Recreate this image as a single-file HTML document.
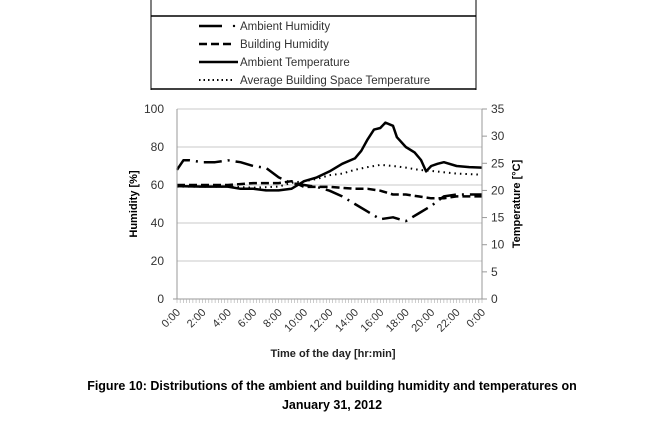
<!DOCTYPE html>
<html><head><meta charset="utf-8"><style>
body{margin:0;background:#fff;width:664px;height:425px;overflow:hidden}
svg{font-family:"Liberation Sans",sans-serif}
</style></head><body>
<svg id="c" width="664" height="425">
<g>
<line x1="151" y1="0" x2="151" y2="90" stroke="#000" stroke-width="1"/>
<line x1="476" y1="0" x2="476" y2="90" stroke="#000" stroke-width="1"/>
<line x1="151" y1="16" x2="476" y2="16" stroke="#000" stroke-width="1.5"/>
<line x1="151" y1="89" x2="476" y2="89" stroke="#000" stroke-width="1.5"/>
<g><line x1="199" y1="26" x2="222" y2="26" stroke="#000" stroke-width="2.5"/><circle cx="234" cy="26" r="1.2"/><text x="240" y="30" font-size="11.5" fill="#333">Ambient Humidity</text></g>
<g><line x1="199" y1="44" x2="235" y2="44" stroke="#000" stroke-width="2.5" stroke-dasharray="8,4"/><text x="240" y="48" font-size="11.5" fill="#333">Building Humidity</text></g>
<g><line x1="199" y1="62" x2="238" y2="62" stroke="#000" stroke-width="2.5"/><text x="240" y="66" font-size="11.5" fill="#333">Ambient Temperature</text></g>
<g><line x1="199" y1="80" x2="235" y2="80" stroke="#000" stroke-width="2" stroke-dasharray="1.5,3"/><text x="240" y="84" font-size="11.5" fill="#333">Average Building Space Temperature</text></g>
</g>
<g id="grid"></g><g id="series"></g><g id="axes"></g>
<text x="333" y="357" font-size="11" text-anchor="middle" fill="#222" font-weight="bold">Time of the day [hr:min]</text>
<text transform="translate(137,204) rotate(-90)" font-size="11" text-anchor="middle" font-weight="bold">Humidity [%]</text>
<text transform="translate(520,204) rotate(-90)" font-size="11" text-anchor="middle" font-weight="bold">Temperature [°C]</text>
<text x="332" y="390" font-size="12.5" text-anchor="middle" font-weight="bold">Figure 10: Distributions of the ambient and building humidity and temperatures on</text>
<text x="332" y="409" font-size="12.5" text-anchor="middle" font-weight="bold">January 31, 2012</text>
</svg>
<script>
const humTicks=[0,20,40,60,80,100];
const tempTicks=[0,5,10,15,20,25,30,35];
const timeLabels=["0:00","2:00","4:00","6:00","8:00","10:00","12:00","14:00","16:00","18:00","20:00","22:00","0:00"];
const ambHumHours=[0,0.5,1,2,3,4,5,6,7,8,9,10,11,12,13,14,15,16,17,18,19,20,21,22,23,24];
const ambHumVals=[68,73,73,72,72,73,72,70,69,64,61,60,59,57,54,50,46,42,43,41,45,49,54,55,55,55];
const bldHumHours=[0,2,4,6,8,9,10,12,14,15,16,17,18,19,20,21,22,23,24];
const bldHumVals=[60,60,60,61,61,62,59,59,58,58,57,55,55,54,53,53,54,54,54];
const ambTempHours=[0,2,4,5,6,7,8,9,10,11,12,13,14,14.5,15,15.5,16,16.4,17,17.3,18,18.7,19.2,19.6,20,20.5,21,22,23,24];
const ambTempVals=[20.8,20.7,20.7,20.3,20.3,20,20,20.3,21.7,22.4,23.5,24.9,25.9,27.3,29.4,31.2,31.5,32.5,31.9,29.8,28,27,25.6,23.5,24.5,24.9,25.2,24.5,24.3,24.2];
const avgTempHours=[0,4,6,8,9,10,11,12,13,14,15,16,17,18,19,20,22,24];
const avgTempVals=[20.7,20.7,20.5,20.7,21.4,21.7,22.1,22.8,23.1,23.8,24.3,24.7,24.5,24.2,23.8,23.6,23.1,22.9];
const X0=177,X1=482,Y0=299,Y1=109;
const xs=h=>X0+h/24*(X1-X0);
const yh=v=>Y0-v/100*(Y0-Y1);
const yt=v=>Y0-v/35*(Y0-Y1);
const NS="http://www.w3.org/2000/svg";
function mk(tag,attrs,parent){const e=document.createElementNS(NS,tag);for(const k in attrs)e.setAttribute(k,attrs[k]);document.getElementById(parent).appendChild(e);return e;}
humTicks.forEach(v=>{
  if(v>0){const g=mk('line',{x1:X0,x2:X1,y1:yh(v),y2:yh(v),stroke:'#c8c8c8','stroke-width':1},'grid');
  
  }
  const t=mk('text',{x:X0-13,y:yh(v)+4,'font-size':12,'text-anchor':'end',fill:'#333'},'axes');t.textContent=v;
  
  
});
tempTicks.forEach(v=>{
  mk('line',{x1:X1,x2:X1+5,y1:yt(v),y2:yt(v),stroke:'#999'},'axes');
  const t=mk('text',{x:X1+9,y:yt(v)+4,'font-size':12,fill:'#333'},'axes');t.textContent=v;
  
  
});
mk('line',{x1:X0,x2:X0,y1:Y1,y2:Y0,stroke:'#999'},'axes');
mk('line',{x1:X1,x2:X1,y1:Y1,y2:Y0,stroke:'#999'},'axes');
mk('line',{x1:X0-4,x2:X1,y1:Y0,y2:Y0,stroke:'#999'},'axes');
for(let i=0;i<=96;i++){mk('line',{x1:xs(i/4),x2:xs(i/4),y1:Y0,y2:Y0+4,stroke:'#aaa','stroke-width':0.6},'axes');}
timeLabels.forEach((l,i)=>{const x=xs(i*2);
  const t=mk('text',{transform:`translate(${x+4},${Y0+14}) rotate(-45)`,'font-size':11,'text-anchor':'end',fill:'#333'},'axes');t.textContent=l;
  
  
});
function line(hs,vs,yf,style,name){
  const d=hs.map((h,i)=>(i?'L':'M')+xs(h).toFixed(1)+','+yf(vs[i]).toFixed(1)).join('');
  const p=mk('path',Object.assign({d:d,fill:'none',stroke:'#000','stroke-linejoin':'round'},style),'series');
  
  
}
line(avgTempHours,avgTempVals,yt,{'stroke-width':2,'stroke-dasharray':'1.5,4'},'avg-building-temperature-line');
line(bldHumHours,bldHumVals,yh,{'stroke-width':2.5,'stroke-dasharray':'8,4'},'building-humidity-line');
line(ambHumHours,ambHumVals,yh,{'stroke-width':2.5,'stroke-dasharray':'18,6,2,6'},'ambient-humidity-line');
line(ambTempHours,ambTempVals,yt,{'stroke-width':2.5},'ambient-temperature-line');
</script>
</body></html>
